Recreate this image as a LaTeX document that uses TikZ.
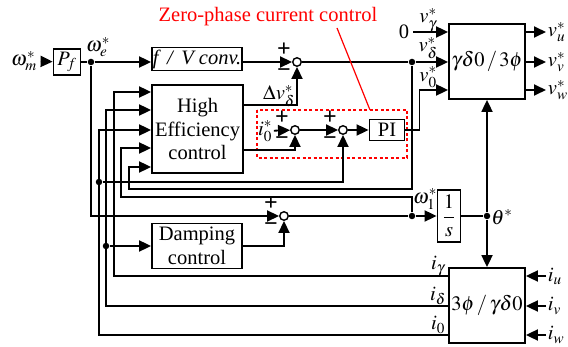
\documentclass[tikz,border=0pt]{standalone}
\usepackage{mathptmx}
\usepackage[no-math]{fontspec}
\setmainfont{Liberation Serif}
\usetikzlibrary{arrows.meta,positioning}

\tikzset{
  blk/.style={draw,align=center,inner sep=0pt},
  sumpt/.style={draw,circle,line width=1.4pt,minimum size=8.5pt,inner sep=0pt,fill=white},
  dotpt/.style={circle,fill,minimum size=6.5pt,inner sep=0pt},
  sig/.style={-{Triangle[length=12pt,width=11pt]}},
  signlab/.style={font=\fontsize{24}{24}\selectfont\bfseries,inner sep=0pt},
}

\begin{document}
\begin{tikzpicture}[x=1pt,y=-1pt,line width=1.8pt,font=\fontsize{20.5}{23.5}\selectfont]
  \useasboundingbox (0,0) rectangle (568,347);
  % blocks
  \node[blk,minimum width=27pt,minimum height=26pt] (pf) at (67,62) {$P_f$};
  \node[blk,minimum width=90pt,minimum height=23pt] (fv) at (197,59) {\textit{f\, /\, V conv.}};
  \node[blk,minimum width=91pt,minimum height=88pt] (hec) at (197.5,129) {High\\Efficiency\\control};
  \node[blk,minimum width=90pt,minimum height=45pt] (dmp) at (197,246) {Damping\\control};
  \node[blk,minimum width=35pt,minimum height=21pt] (pi) at (387,130) {PI};
  \node[blk,minimum width=23pt,minimum height=52pt] (integ) at (449,216) {$\displaystyle\frac{1}{s}$};
  \node[blk,minimum width=76pt,minimum height=75pt] (vconv) at (487,61.5) {$\gamma\delta0\,/\,3\phi$};
  \node[blk,minimum width=76pt,minimum height=75pt] (iconv) at (487,305.5) {$3\phi\,/\,\gamma\delta0$};
  % summing points and branch dots
  \node[sumpt] (s1) at (297,62) {};
  \node[sumpt] (s2) at (295,130) {};
  \node[sumpt] (s3) at (343,130) {};
  \node[sumpt] (s4) at (284,216) {};
  \foreach \s in {s1,s2,s3,s4} {
    \node[signlab] (\s p) at ([shift={(-13,-12)}]\s) {+};
    \node[signlab] (\s m) at ([shift={(-13,11)}]\s) {\symbol{"2212}};
  }
  \node[dotpt] (we) at (91,62) {};
  \node[dotpt] (vd) at (412,62) {};
  \node[dotpt] (w1) at (412,216) {};
  \node[dotpt] (th) at (487,216) {};
  \node[dotpt] (d0) at (99,182) {};
  \node[dotpt] (dd) at (106,246) {};
  % speed reference path
  \node (wm) at (24,61) {$\omega_m^*$};
  \node (welab) at (98,47) {$\omega_e^*$};
  \draw[sig] (wm) -- (pf);
  \draw (pf) -- (we);
  \draw[sig] (we) -- (fv.west |- we);
  \draw[sig] (fv.east |- we) -- (s1);
  \draw (s1) -- (vd);
  \draw[sig] (vd) -- (vconv.west |- vd);
  \draw[sig] (hec.east |- 0,105) -| (s1);
  \node (dvlab) at (279,96) {$\Delta v_\delta^*$};
  % zero-phase current loop
  \draw[red,line width=1.3pt,dash pattern=on 3pt off 2.5pt] (257,110) rectangle (407,158);
  \node[red] (zpc) at (268,17) {Zero-phase current control};
  \coordinate (zpcend) at (370,110);
  \draw[red,line width=1.2pt] (337,28) -- (zpcend);
  \node[inner sep=1pt] (i0ref) at (265,131) {$i_0^*$};
  \draw[sig] (i0ref) -- (s2);
  \draw[sig] (hec.east |- 0,150) -| (s2);
  \draw[sig] (s2) -- (s3);
  \draw[sig] (s3) -- (pi);
  \draw[sig] (d0) -| (s3);
  \draw[sig] (pi.east) -- ++(14,0) |- (vconv.west |- 0,90);
  % voltage inputs and outputs
  \node (zero) at (404,32) {0};
  \draw[sig] (zero) -- (vconv.west |- zero);
  \node (vglab) at (428,20) {$v_\gamma^*$};
  \node (vdlab) at (428,48) {$v_\delta^*$};
  \node (v0lab) at (428,77) {$v_0^*$};
  \foreach \y/\n in {32/u,62/v,90/w} {
    \node[anchor=west,inner sep=1pt] (v\n) at (546,\y) {$v_\n^*$};
    \draw[sig] (vconv.east |- v\n) -- (v\n.west);
  }
  % current feedback
  \foreach \y/\n in {276/u,306/v,335/w} {
    \node[anchor=west,inner sep=1pt] (i\n) at (546,\y) {$i_\n$};
    \draw[sig] (i\n.west) -- (iconv.east |- i\n);
  }
  \node (iglab) at (438,266) {$i_\gamma$};
  \node (idlab) at (438,296) {$i_\delta$};
  \node (iolab) at (438,325) {$i_0$};
  \draw[sig] (iconv.west |- iu) -| (114,92) -- (hec.west |- 0,92);
  \draw[sig] (iconv.west |- iv) -| (106,110) -- (hec.west |- 0,110);
  \draw[sig] (iconv.west |- iw) -| (99,130) -- (hec.west |- 0,130);
  \draw[sig] (vd) -- (412,189) -| (129,167) -- (hec.west |- 0,167);
  \draw[sig] (w1) -- (412,197) -| (121,148) -- (hec.west |- 0,148);
  % damping and angle
  \draw[sig] (dd) -- (dmp);
  \draw[sig] (we) |- (s4);
  \draw[sig] (dmp) -| (s4);
  \draw (s4) -- (w1);
  \draw[sig] (w1) -- (integ);
  \node (w1lab) at (425,199) {$\omega_1^*$};
  \draw (integ) -- (th);
  \draw[sig] (th) -- (vconv);
  \draw[sig] (th) -- (iconv);
  \node (thlab) at (502,217) {$\theta^*$};
\end{tikzpicture}
\end{document}
